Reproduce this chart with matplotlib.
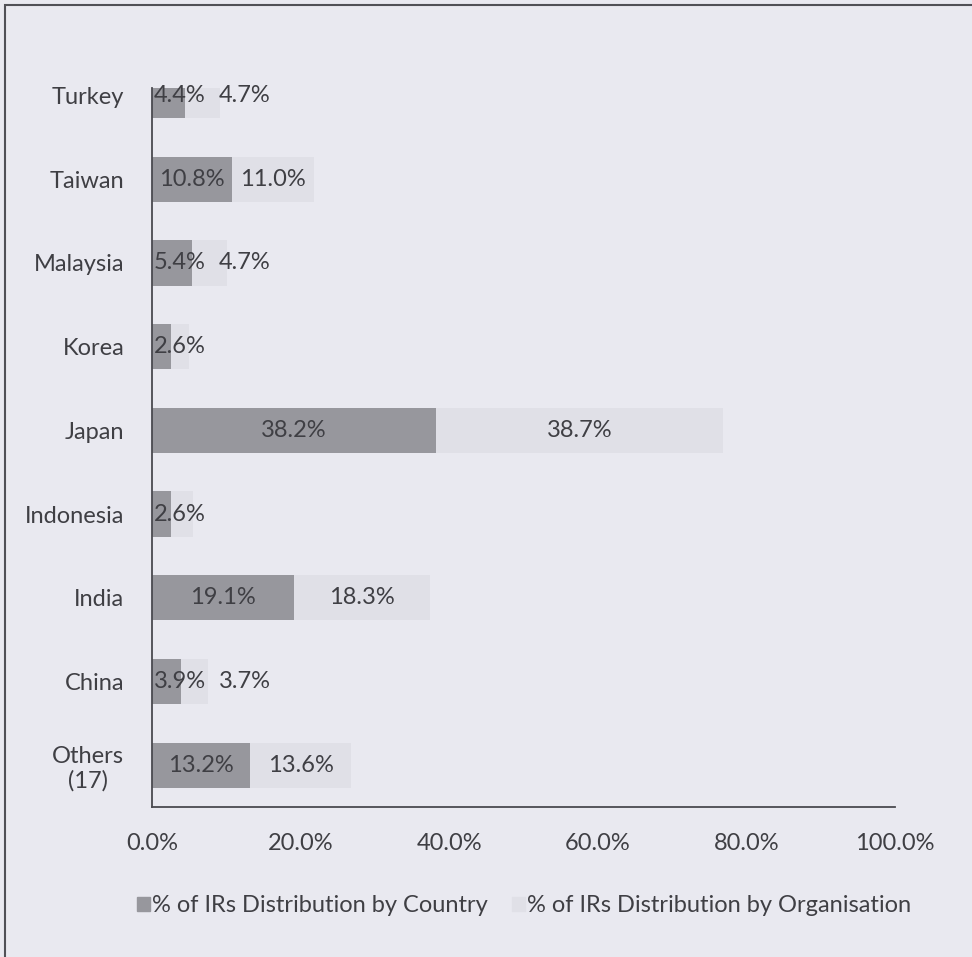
import matplotlib.pyplot as plt
from matplotlib.patches import Rectangle, Patch

# data, top to bottom as in the chart
countries = ['Turkey', 'Taiwan', 'Malaysia', 'Korea', 'Japan', 'Indonesia', 'India', 'China', 'Others\n(17)']
by_country = [4.4, 10.8, 5.4, 2.6, 38.2, 2.6, 19.1, 3.9, 13.2]
by_org = [4.7, 11.0, 4.7, 2.4, 38.7, 2.9, 18.3, 3.7, 13.6]
org_labelled = [True, True, True, False, True, False, True, True, True]
xticks = [0, 20, 40, 60, 80, 100]
legend_labels = ['% of IRs Distribution by Country', '% of IRs Distribution by Organisation']

bg = '#e9e9f0'
dark = '#97979d'
light = '#e0e0e7'
ink = '#3f3f44'
fs = 17

plt.rcParams['font.family'] = ['Lato', 'DejaVu Sans']
plt.rcParams['text.color'] = ink

W, H = 972, 957
fig = plt.figure(figsize=(W / 100, H / 100), dpi=100, facecolor=bg)
ax = fig.add_axes([152 / W, 1 - 807 / H, (895 - 152) / W, (807 - 88) / H])
ax.set_facecolor(bg)

pos = list(range(len(countries)))
bh = 0.54
ax.barh(pos, by_country, height=bh, color=dark, label=legend_labels[0])
ax.barh(pos, by_org, left=by_country, height=bh, color=light, label=legend_labels[1])

# data labels: centred on segment, pushed right when the segment is too narrow
def half_w(s):
    return len(s) * 0.85

for i in pos:
    s1 = f'{by_country[i]:.1f}%'
    x1 = max(by_country[i] / 2, 0.3 + half_w(s1))
    ax.text(x1, i, s1, ha='center', va='center', fontsize=fs, color=ink)
    if org_labelled[i]:
        s2 = f'{by_org[i]:.1f}%'
        x2 = max(by_country[i] + by_org[i] / 2, x1 + half_w(s1) + 2.0 + half_w(s2))
        ax.text(x2, i, s2, ha='center', va='center', fontsize=fs, color=ink)

ax.set_xlim(0, 100)
ax.set_ylim(8.5, -0.09)
ax.set_xticks(xticks)
ax.set_xticklabels([f'{v:.1f}%' for v in xticks], fontsize=fs, color=ink)
ax.set_yticks(pos)
ax.set_yticklabels(countries, fontsize=fs, color=ink, multialignment='center')
ax.tick_params(axis='both', length=0)
ax.tick_params(axis='x', pad=19)
ax.tick_params(axis='y', pad=20)

for side in ['top', 'right']:
    ax.spines[side].set_visible(False)
for side in ['left', 'bottom']:
    ax.spines[side].set_color('#4a4a50')
    ax.spines[side].set_linewidth(1.3)

handles = [Patch(color=dark), Patch(color=light)]
fig.legend(handles, legend_labels, loc='center', ncol=2, frameon=False,
           bbox_to_anchor=(524 / W, 1 - 906 / H), fontsize=fs,
           handlelength=0.55, handleheight=0.55, handletextpad=0.1, columnspacing=1.0)

# outer chart border (cropped on the right and bottom)
fig.patches.append(Rectangle((5 / W, -0.1), 1.2, 1.1 - 5 / H, transform=fig.transFigure,
                             fill=False, edgecolor='#505056', linewidth=1.5))

fig.savefig('out.png', dpi=100, facecolor=bg)
